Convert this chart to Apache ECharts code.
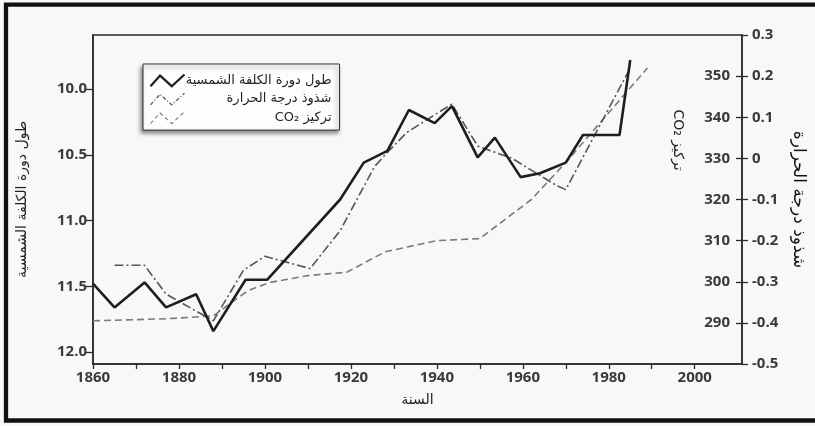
<!DOCTYPE html>
<html>
<head>
<meta charset="utf-8">
<script src="https://cdn.jsdelivr.net/npm/echarts@6/dist/echarts.min.js"></script>
<style>
  html, body { margin: 0; padding: 0; background: #fff; }
  #chart { width: 815px; height: 426px; }
</style>
</head>
<body>
<div id="chart"></div>
<script>
// solar cycle length (years)
var solarYears = [1860, 1865, 1872, 1877, 1884, 1888, 1895.5, 1900.5, 1917.5, 1923, 1928.5, 1933.5, 1939.5, 1943.5, 1949.5, 1953.5, 1959.5, 1964, 1970, 1974, 1982.5, 1985];
var solarLength = [11.48, 11.66, 11.47, 11.66, 11.56, 11.84, 11.45, 11.45, 10.84, 10.56, 10.47, 10.16, 10.26, 10.13, 10.52, 10.37, 10.67, 10.64, 10.56, 10.35, 10.35, 9.78];
// temperature anomaly
var tempYears = [1865, 1872, 1877, 1888, 1895, 1900, 1910.5, 1917.5, 1925.5, 1929, 1933, 1938, 1943.5, 1949.5, 1957.5, 1968, 1970, 1984.5];
var tempAnomaly = [-0.26, -0.26, -0.33, -0.395, -0.272, -0.238, -0.268, -0.176, -0.02, 0.02, 0.063, 0.096, 0.132, 0.03, 0.0, -0.067, -0.076, 0.21];
// CO2 concentration (ppm)
var co2Years = [1860, 1877, 1888, 1896, 1901, 1910, 1919, 1928, 1940, 1950, 1962, 1970, 1989];
var co2Ppm = [290.5, 291, 291.7, 297.8, 299.8, 301.5, 302.3, 307.3, 310, 310.5, 320, 329, 352];

// tick values
var yearTicks = [1860, 1870, 1880, 1890, 1900, 1910, 1920, 1930, 1940, 1950, 1960, 1970, 1980, 1990, 2000];
var yearLabels = [1860, 1880, 1900, 1920, 1940, 1960, 1980, 2000];
var solarTicks = [10, 10.5, 11, 11.5, 12];
var co2Ticks = [290, 300, 310, 320, 330, 340, 350];

var solarName = 'طول دورة الكلفة الشمسية';
var tempName = 'شذوذ درجة الحرارة';
var co2Name = 'CO₂ تركيز';

var arabicFont = "'DejaVu Sans', sans-serif";
var numFont = "'Open Sans', sans-serif";
var zigzag = 'path://M0,11L9,1L20,11L32,0';

function pairs(xs, ys) {
  return xs.map(function (x, i) { return [x, ys[i]]; });
}

var chart = echarts.init(document.getElementById('chart'));

var numLabel = {
  fontFamily: numFont,
  fontSize: 15,
  fontWeight: 'bold',
  color: '#3a3a3a'
};
var axisLine = { show: true, onZero: false, lineStyle: { color: '#2a2a2a', width: 1.6 } };
var tickStyle = { color: '#2a2a2a', width: 1.3 };

var option = {
  backgroundColor: '#f8f8f8',
  animation: false,
  grid: {
    left: 93, right: 69, top: 35, bottom: 62,
    show: true, borderColor: '#2a2a2a', borderWidth: 1.4
  },
  legend: {
    orient: 'vertical',
    left: 143,
    top: 64,
    padding: [8, 8, 4, 5],
    itemGap: 2,
    itemWidth: 34,
    itemHeight: 12,
    backgroundColor: '#fdfdfd',
    borderColor: '#333',
    borderWidth: 1,
    shadowColor: 'rgba(0,0,0,0.45)',
    shadowBlur: 4,
    shadowOffsetX: -2,
    shadowOffsetY: 3,
    selectedMode: false,
    formatter: '{t|{name}}',
    textStyle: {
      fontFamily: arabicFont, fontSize: 13, color: '#222',
      rich: { t: { width: 142, lineHeight: 14, align: 'right', fontFamily: arabicFont, fontSize: 13, color: '#222' } }
    },
    data: [
      { name: solarName, icon: zigzag, itemStyle: { color: 'none', borderColor: '#1e1e1e', borderWidth: 2.2 } },
      { name: tempName, icon: zigzag, itemStyle: { color: 'none', borderColor: '#5a5a5a', borderWidth: 1.3, borderType: [4, 2, 1, 2] } },
      { name: co2Name, icon: zigzag, itemStyle: { color: 'none', borderColor: '#8a8a8a', borderWidth: 1.3, borderType: [4, 3] } }
    ]
  },
  xAxis: {
    type: 'value',
    min: 1860,
    max: 2011,
    interval: 10,
    name: 'السنة',
    nameLocation: 'middle',
    nameGap: 29,
    nameTextStyle: { fontFamily: arabicFont, fontSize: 14, color: '#222' },
    axisLine: axisLine,
    axisTick: { length: 5, lineStyle: tickStyle, customValues: yearTicks },
    splitLine: { show: false },
    axisLabel: Object.assign({ margin: 6, customValues: yearLabels, formatter: function (v) { return String(v); } }, numLabel)
  },
  yAxis: [
    {
      type: 'value',
      position: 'left',
      inverse: true,
      min: 9.59,
      max: 12.09,
      name: solarName,
      nameLocation: 'middle',
      nameRotate: 90,
      nameGap: 64,
      nameTextStyle: { fontFamily: arabicFont, fontSize: 14, color: '#222' },
      axisLine: axisLine,
      axisTick: { show: true, length: 7, lineStyle: tickStyle, customValues: solarTicks },
      splitLine: { show: false },
      axisLabel: Object.assign({
        margin: 6,
        customValues: solarTicks,
        formatter: function (v) { return v.toFixed(1); }
      }, numLabel)
    },
    {
      type: 'value',
      position: 'right',
      min: -0.5,
      max: 0.3,
      interval: 0.1,
      name: tempName,
      nameLocation: 'middle',
      nameRotate: -90,
      nameGap: 48,
      nameTextStyle: { fontFamily: arabicFont, fontSize: 17, color: '#111' },
      axisLine: axisLine,
      axisTick: { show: true, length: 6, lineStyle: tickStyle },
      splitLine: { show: false },
      axisLabel: Object.assign({
        margin: 10,
        formatter: function (v) { return String(Math.round(v * 10) / 10); }
      }, numLabel)
    },
    {
      type: 'value',
      position: 'right',
      min: 280,
      max: 360,
      interval: 10,
      axisLine: { show: false },
      axisTick: { show: true, inside: true, length: 6, lineStyle: tickStyle, customValues: co2Ticks },
      splitLine: { show: false },
      axisLabel: Object.assign({
        inside: true,
        margin: 12,
        customValues: co2Ticks,
        formatter: function (v) { return String(v); }
      }, numLabel)
    }
  ],
  graphic: [
    {
      type: 'text',
      x: 678, y: 140,
      rotation: -Math.PI / 2,
      style: { text: co2Name, font: '14px ' + arabicFont, fill: '#222', align: 'center', verticalAlign: 'middle' }
    },
    {
      type: 'rect',
      silent: true,
      z: 100,
      shape: { x: 6, y: 4.7, width: 840, height: 415.8 },
      style: { fill: 'none', stroke: '#111', lineWidth: 4.3 }
    }
  ],
  series: [
    {
      name: co2Name,
      type: 'line',
      yAxisIndex: 2,
      symbol: 'none',
      data: pairs(co2Years, co2Ppm),
      lineStyle: { color: '#7a7a7a', width: 1.6, type: [7, 4] },
      itemStyle: { color: '#7a7a7a' },
      z: 1
    },
    {
      name: tempName,
      type: 'line',
      yAxisIndex: 1,
      symbol: 'none',
      data: pairs(tempYears, tempAnomaly),
      lineStyle: { color: '#555', width: 1.6, type: [9, 3, 2, 3] },
      itemStyle: { color: '#555' },
      z: 2
    },
    {
      name: solarName,
      type: 'line',
      yAxisIndex: 0,
      symbol: 'none',
      data: pairs(solarYears, solarLength),
      lineStyle: { color: '#1e1e1e', width: 2.6 },
      itemStyle: { color: '#1e1e1e' },
      z: 3
    }
  ]
};

chart.setOption(option);
</script>
</body>
</html>
